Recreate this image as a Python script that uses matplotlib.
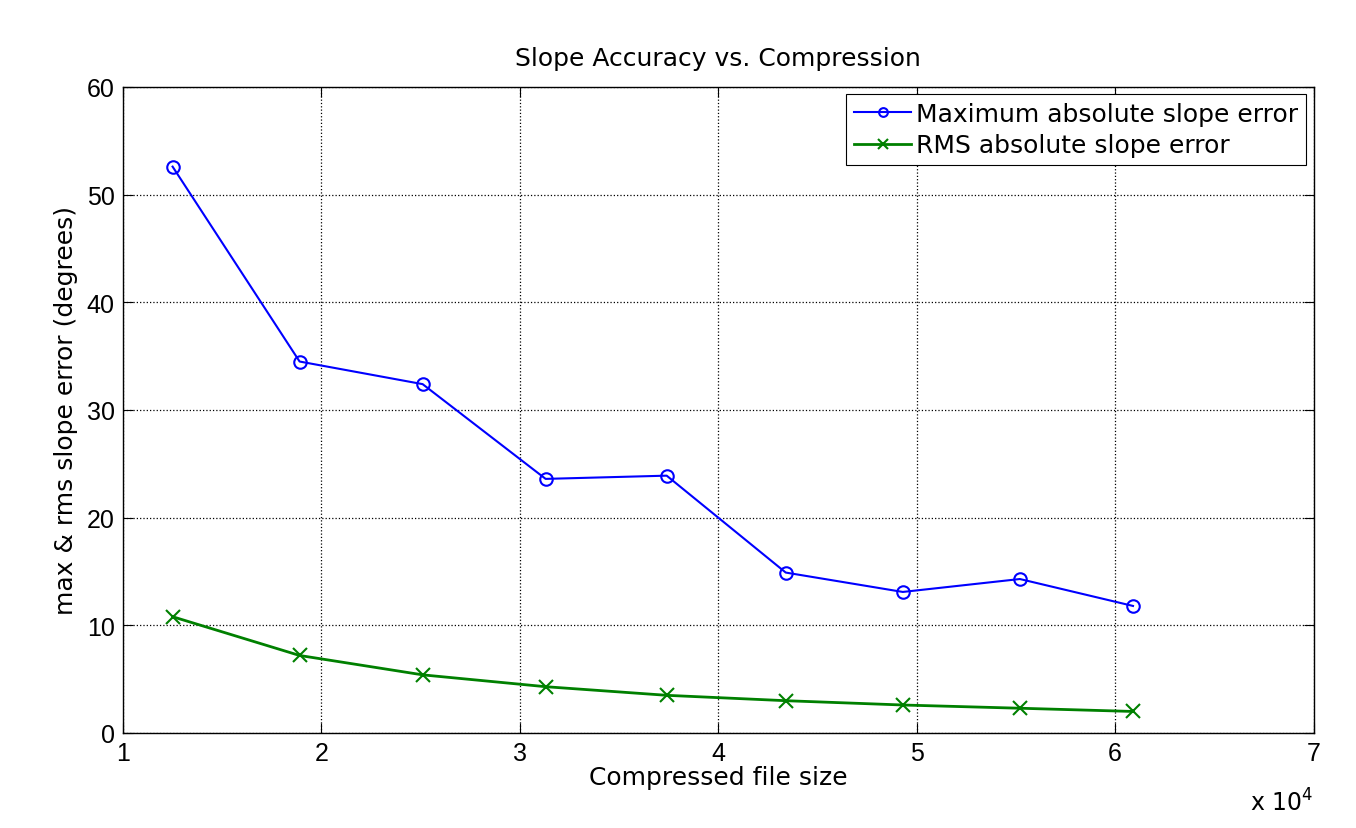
import matplotlib
matplotlib.use("Agg")
import matplotlib.pyplot as plt
from matplotlib.ticker import FuncFormatter

plt.rcParams['font.family'] = ['DejaVu Sans']

# Compressed file size (bytes) and slope errors (degrees)
file_size = [12500, 18900, 25100, 31300, 37400, 43400, 49300, 55200, 60900]
max_err = [52.6, 34.5, 32.4, 23.6, 23.9, 14.9, 13.1, 14.3, 11.8]
rms_err = [10.8, 7.2, 5.4, 4.3, 3.5, 3.0, 2.6, 2.3, 2.0]

fig = plt.figure(figsize=(13.56, 8.29), dpi=100)
ax = fig.add_axes([0.0907, 0.1146, 0.878, 0.7793])

ax.plot(file_size, max_err, color='#0000ff', marker='o', markersize=9,
        markerfacecolor='none', markeredgewidth=1.5, linewidth=1.5,
        label='Maximum absolute slope error')
ax.plot(file_size, rms_err, color='#008000', marker='x', markersize=10,
        markeredgewidth=1.5, linewidth=2,
        label='RMS absolute slope error')

ax.set_xlim(10000, 70000)
ax.set_ylim(0, 60)
ax.set_xticks(range(10000, 70001, 10000))
ax.set_yticks(range(0, 61, 10))
ax.xaxis.set_major_formatter(FuncFormatter(lambda v, p: f"{v / 1e4:g}"))
ax.tick_params(direction='in', top=True, right=True, length=7, pad=6)
for lbl in ax.get_xticklabels() + ax.get_yticklabels():
    lbl.set_fontfamily('Liberation Sans')
    lbl.set_fontsize(18)

ax.grid(True, linestyle=':', color='black', linewidth=0.9)

ax.set_title('Slope Accuracy vs. Compression', fontsize=18, pad=16)
ax.set_xlabel('Compressed file size', fontsize=18, labelpad=0)
ax.set_ylabel('max & rms slope error (degrees)', fontsize=18, labelpad=6)
ax.text(1.0, -0.085, r'x 10$^4$', transform=ax.transAxes, ha='right',
        va='top', fontsize=17)

leg = ax.legend(loc='upper right', fontsize=18, fancybox=False,
                framealpha=1, edgecolor='black', handlelength=2.3,
                handletextpad=0.2, borderpad=0.3, labelspacing=0.3,
                borderaxespad=0.3, markerscale=0.7)
leg.get_frame().set_linewidth(0.8)

for s in ax.spines.values():
    s.set_linewidth(1.0)

fig.savefig('out.png', dpi=100)
